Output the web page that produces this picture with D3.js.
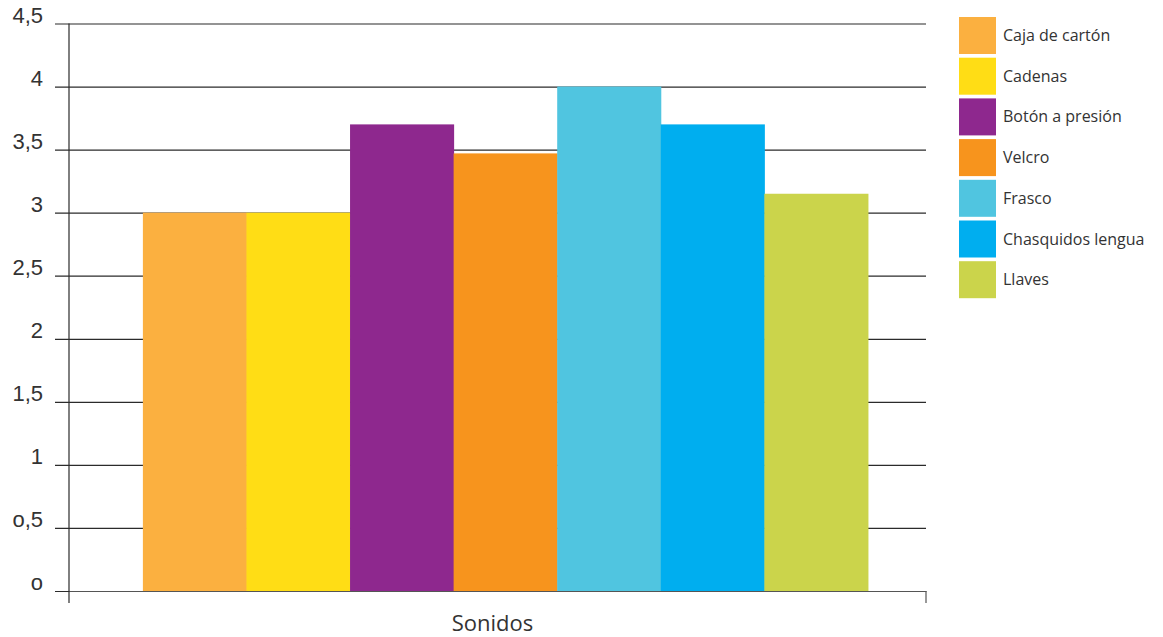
<!DOCTYPE html>
<html>
<head>
<meta charset="utf-8">
<script src="https://cdn.jsdelivr.net/npm/d3@7"></script>
<style>
  html, body { margin: 0; padding: 0; background: #fff; }
  svg { display: block; font-family: "Open Sans", "Lato", sans-serif; }
</style>
</head>
<body>
<svg id="chart" width="1163" height="637"></svg>
<script>
// Sound levels per source, grouped under one category
const categories = ["Sonidos"];
const seriesNames = ["Caja de cartón", "Cadenas", "Botón a presión", "Velcro", "Frasco", "Chasquidos lengua", "Llaves"];
const seriesValues = [3, 3, 3.7, 3.47, 4, 3.7, 3.15];
const seriesColors = ["#fbb040", "#ffdd15", "#8e288e", "#f7941d", "#50c5e0", "#00aeef", "#cbd44b"];
const tickValues = [0, 0.5, 1, 1.5, 2, 2.5, 3, 3.5, 4, 4.5];
const tickLabels = ["o", "o,5", "1", "1,5", "2", "2,5", "3", "3,5", "4", "4,5"];

const svg = d3.select("#chart");
const plot = { left: 69, right: 926, top: 23.5, bottom: 591 };

const y = d3.scaleLinear().domain([0, 4.5]).range([plot.bottom, plot.top]);

const x0 = d3.scaleBand()
  .domain(categories)
  .range([plot.left, plot.right])
  .paddingInner(0.0834)
  .paddingOuter(0.0834)
  .align(0.56);

const x1 = d3.scaleBand()
  .domain(seriesNames)
  .range([0, x0.bandwidth()]);

// horizontal grid lines with tick labels
const yAxis = d3.axisLeft(y)
  .tickValues(tickValues)
  .tickSize(-(plot.right - plot.left))
  .tickSizeOuter(0)
  .tickPadding(26)
  .tickFormat((d, i) => tickLabels[i]);

const gy = svg.append("g")
  .attr("transform", `translate(${plot.left},0)`)
  .call(yAxis);
gy.select(".domain").remove();
gy.selectAll(".tick line")
  .attr("x1", -14)
  .attr("stroke", "#2b2b2b")
  .attr("stroke-width", 1.2);
gy.selectAll(".tick text")
  .attr("fill", "#333")
  .attr("font-size", 22)
  .attr("dy", "-0.05em");

// bars
svg.append("g")
  .selectAll("g")
  .data(categories)
  .join("g")
  .attr("transform", d => `translate(${x0(d)},0)`)
  .selectAll("rect")
  .data(() => seriesNames.map((name, i) => ({ name, value: seriesValues[i], color: seriesColors[i] })))
  .join("rect")
  .attr("x", d => x1(d.name))
  .attr("y", d => y(d.value))
  .attr("width", x1.bandwidth() + 0.5)
  .attr("height", d => y(0) - y(d.value))
  .attr("fill", d => d.color);

// vertical axis line
svg.append("line")
  .attr("x1", plot.left).attr("x2", plot.left)
  .attr("y1", plot.top).attr("y2", plot.bottom + 12)
  .attr("stroke", "#2b2b2b")
  .attr("stroke-width", 1.2);

// category axis along the bottom
const xAxis = d3.axisBottom(x0).tickSize(0).tickPadding(0).tickFormat("");
const gx = svg.append("g")
  .attr("transform", `translate(0,${plot.bottom})`)
  .call(xAxis);
gx.select(".domain").attr("stroke", "#555").attr("stroke-width", 1.2);
gx.append("line")
  .attr("x1", plot.right).attr("x2", plot.right)
  .attr("y1", 0).attr("y2", 12)
  .attr("stroke", "#555")
  .attr("stroke-width", 1.2);

svg.append("text")
  .attr("x", (plot.left + plot.right) / 2 - 5)
  .attr("y", 631)
  .attr("text-anchor", "middle")
  .attr("fill", "#333")
  .attr("font-size", 22)
  .text(categories[0]);

// legend
const legend = svg.append("g").attr("transform", "translate(959,17)");
const item = legend.selectAll("g")
  .data(seriesNames)
  .join("g")
  .attr("transform", (d, i) => `translate(0,${i * 40.7})`);
item.append("rect")
  .attr("width", 37)
  .attr("height", 37)
  .attr("fill", (d, i) => seriesColors[i]);
item.append("text")
  .attr("x", 44)
  .attr("y", 18.5)
  .attr("dy", "0.35em")
  .attr("fill", "#333")
  .attr("font-size", 16)
  .text(d => d);
</script>
</body>
</html>
